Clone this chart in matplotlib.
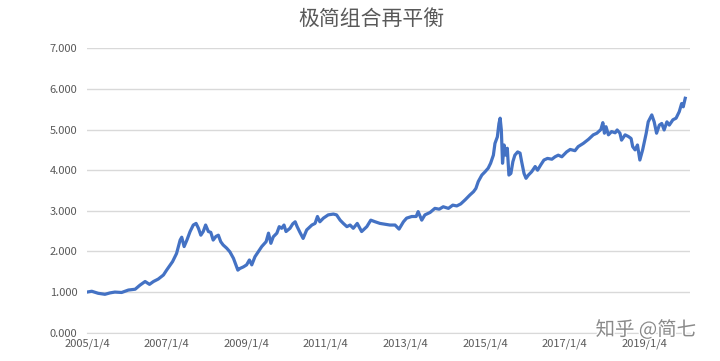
import matplotlib
matplotlib.use("Agg")
import matplotlib.pyplot as plt
import matplotlib.patheffects as pe

plt.rcParams['font.family'] = ['Noto Sans CJK SC', 'DejaVu Sans']

title = "极简组合再平衡"
watermark = "知乎 @简七"

# time position (fractional year) and portfolio value
years = [
    2005.00, 2005.12, 2005.28, 2005.45, 2005.58, 2005.70, 2005.87, 2006.04,
    2006.21, 2006.33, 2006.46, 2006.57, 2006.67, 2006.79, 2006.92, 2007.00,
    2007.15, 2007.25, 2007.34, 2007.38, 2007.44, 2007.51, 2007.59, 2007.67,
    2007.74, 2007.80, 2007.86, 2007.92, 2007.98, 2008.05, 2008.11, 2008.17,
    2008.24, 2008.30, 2008.36, 2008.42, 2008.51, 2008.59, 2008.68, 2008.74,
    2008.79, 2008.84, 2008.93, 2009.01, 2009.08, 2009.14, 2009.22, 2009.30,
    2009.39, 2009.50, 2009.56, 2009.62, 2009.68, 2009.77, 2009.83, 2009.89,
    2009.95, 2010.00, 2010.10, 2010.17, 2010.23, 2010.28, 2010.35, 2010.43,
    2010.52, 2010.65, 2010.73, 2010.79, 2010.85, 2010.94, 2011.06, 2011.19,
    2011.27, 2011.36, 2011.44, 2011.53, 2011.61, 2011.69, 2011.79, 2011.90,
    2012.03, 2012.13, 2012.24, 2012.36, 2012.49, 2012.61, 2012.74, 2012.84,
    2012.95, 2013.03, 2013.16, 2013.27, 2013.32, 2013.41, 2013.49, 2013.62,
    2013.74, 2013.85, 2013.95, 2014.08, 2014.19, 2014.29, 2014.39, 2014.50,
    2014.62, 2014.71, 2014.77, 2014.83, 2014.92, 2015.00, 2015.08, 2015.14,
    2015.21, 2015.25, 2015.31, 2015.35, 2015.38, 2015.41, 2015.44, 2015.48,
    2015.52, 2015.56, 2015.60, 2015.65, 2015.70, 2015.75, 2015.82, 2015.88,
    2015.92, 2015.98, 2016.03, 2016.09, 2016.17, 2016.26, 2016.32, 2016.40,
    2016.48, 2016.57, 2016.68, 2016.76, 2016.84, 2016.93, 2017.05, 2017.14,
    2017.26, 2017.34, 2017.47, 2017.60, 2017.72, 2017.81, 2017.91, 2017.96,
    2018.00, 2018.04, 2018.10, 2018.18, 2018.27, 2018.32, 2018.39, 2018.43,
    2018.52, 2018.60, 2018.67, 2018.71, 2018.77, 2018.83, 2018.89, 2018.96,
    2019.05, 2019.10, 2019.19, 2019.25, 2019.31, 2019.38, 2019.44, 2019.50,
    2019.57, 2019.63, 2019.72, 2019.80, 2019.88, 2019.94, 2019.98, 2020.03,
]
values = [
    1.00, 1.02, 0.97, 0.945, 0.98, 1.00, 0.99, 1.05,
    1.07, 1.17, 1.26, 1.19, 1.26, 1.32, 1.42, 1.54,
    1.75, 1.95, 2.28, 2.35, 2.12, 2.28, 2.49, 2.65,
    2.69, 2.57, 2.40, 2.49, 2.65, 2.49, 2.47, 2.28,
    2.37, 2.40, 2.24, 2.16, 2.08, 1.99, 1.83, 1.67,
    1.54, 1.58, 1.62, 1.67, 1.79, 1.67, 1.87, 1.99,
    2.12, 2.24, 2.45, 2.20, 2.36, 2.45, 2.61, 2.57,
    2.65, 2.49, 2.57, 2.68, 2.73, 2.61, 2.47, 2.32,
    2.53, 2.65, 2.69, 2.86, 2.73, 2.82, 2.90, 2.92,
    2.90, 2.77, 2.69, 2.61, 2.65, 2.57, 2.69, 2.49,
    2.61, 2.77, 2.73, 2.69, 2.67, 2.65, 2.65, 2.55,
    2.73, 2.82, 2.86, 2.86, 2.98, 2.77, 2.90, 2.96,
    3.06, 3.04, 3.10, 3.06, 3.14, 3.12, 3.17, 3.27,
    3.39, 3.47, 3.55, 3.72, 3.88, 3.96, 4.05, 4.17,
    4.37, 4.66, 4.82, 5.15, 5.28, 4.99, 4.17, 4.62,
    4.37, 4.54, 3.88, 3.92, 4.21, 4.37, 4.45, 4.42,
    4.21, 3.92, 3.80, 3.88, 3.96, 4.09, 4.00, 4.13,
    4.25, 4.29, 4.27, 4.33, 4.37, 4.33, 4.45, 4.51,
    4.48, 4.58, 4.66, 4.76, 4.87, 4.91, 5.00, 5.17,
    4.91, 5.07, 4.87, 4.95, 4.92, 4.99, 4.91, 4.74,
    4.87, 4.83, 4.78, 4.58, 4.50, 4.62, 4.25, 4.50,
    4.91, 5.19, 5.36, 5.19, 4.91, 5.11, 5.15, 4.99,
    5.19, 5.11, 5.24, 5.28, 5.44, 5.64, 5.56, 5.77,
]

tick_years = [2005, 2007, 2009, 2011, 2013, 2015, 2017, 2019]
tick_labels = ["2005/1/4", "2007/1/4", "2009/1/4", "2011/1/4",
               "2013/1/4", "2015/1/4", "2017/1/4", "2019/1/4"]
y_ticks = [0, 1, 2, 3, 4, 5, 6, 7]

fig = plt.figure(figsize=(7.2, 3.61), dpi=100)
ax = fig.add_axes([87/720, 1 - 332.7/361, (690 - 87)/720, (332.7 - 48.3)/361])

ax.plot(years, values, color='#4472C4', lw=2.3, solid_joinstyle='round', zorder=3)

ax.set_xlim(2005.0, 2020.15)
ax.set_ylim(0, 7)
ax.set_yticks(y_ticks)
ax.set_yticklabels([f"{v:.3f}" for v in y_ticks])
ax.set_xticks(tick_years)
ax.set_xticklabels(tick_labels)

ax.grid(axis='y', color='#D9D9D9', lw=1)
ax.set_axisbelow(True)
for s in ['top', 'right', 'left']:
    ax.spines[s].set_visible(False)
ax.spines['bottom'].set_color('#D9D9D9')
ax.tick_params(axis='both', length=0, colors='#595959', labelsize=8)
ax.tick_params(axis='y', pad=7)
ax.tick_params(axis='x', pad=4)

fig.text(371/720, 1 - 19/361, title, ha='center', va='center',
         fontsize=15, color='#595959')

fig.text(646/720, 1 - 330/361, watermark, ha='center', va='center',
         fontsize=14, color='#8a8a8a', zorder=10,
         path_effects=[pe.withStroke(linewidth=2, foreground='white')])

fig.savefig("out.png", dpi=100)
